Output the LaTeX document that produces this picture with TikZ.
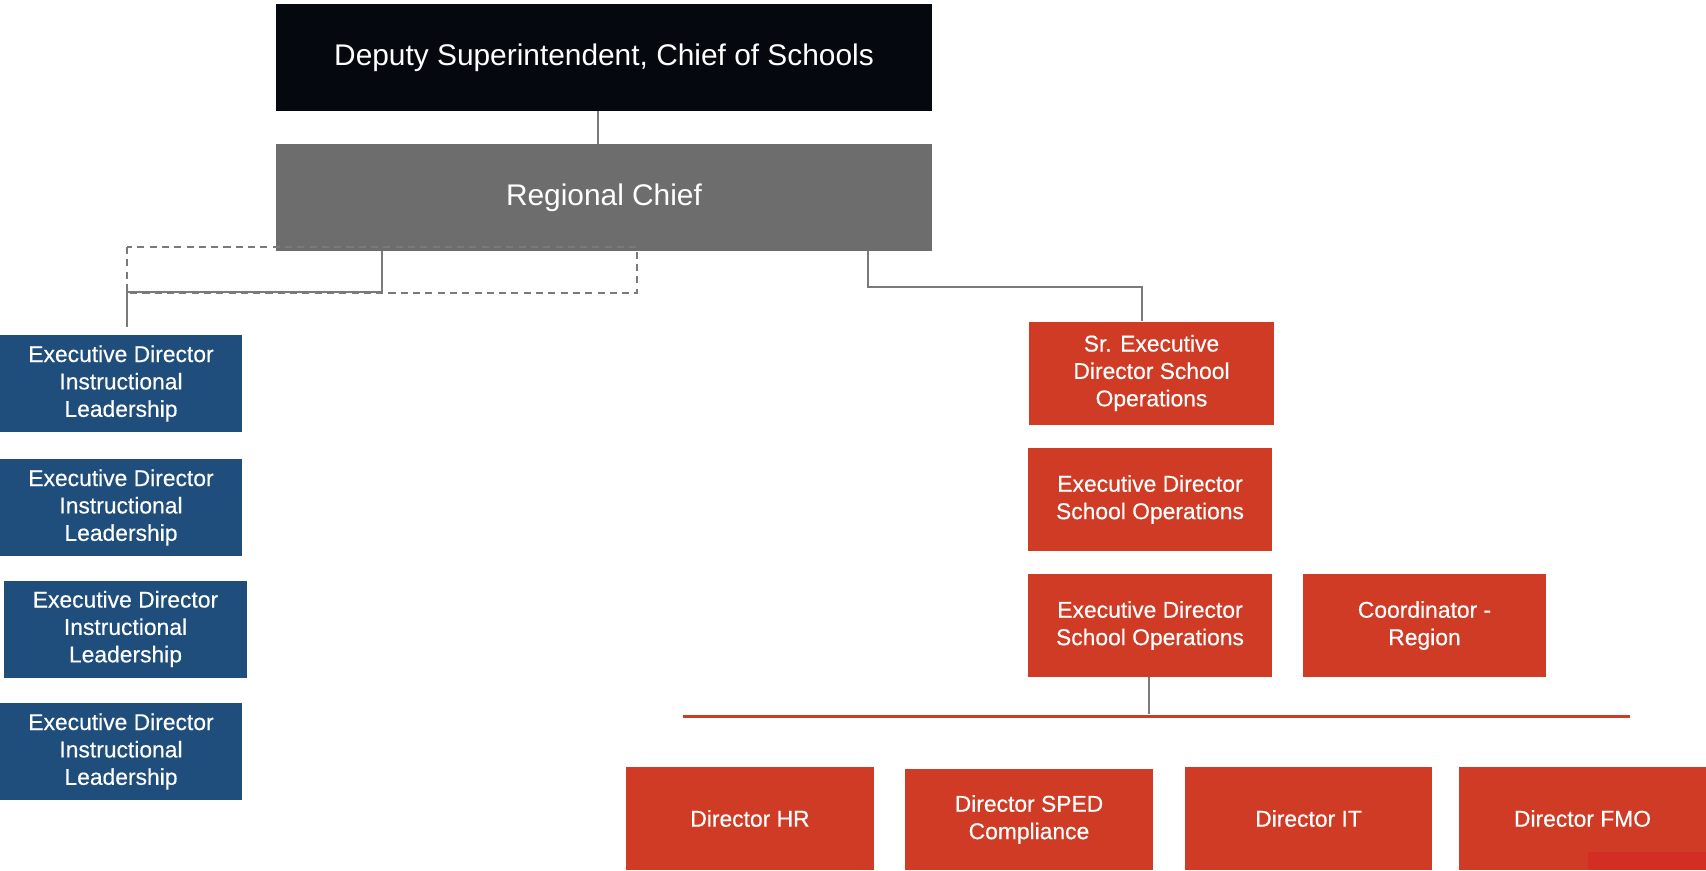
\documentclass[tikz,border=0pt]{standalone}
\usepackage{fontspec}
\setmainfont{Liberation Sans}
\newfontfamily\boxfont[FakeBold=0.4]{Liberation Sans}
\usepackage{tikz}
\usetikzlibrary{positioning, calc}

\definecolor{chiefblack}{HTML}{05080F}
\definecolor{chiefgray}{HTML}{6D6D6D}
\definecolor{leadblue}{HTML}{1F4E7D}
\definecolor{opsred}{HTML}{D03B25}
\definecolor{patchred}{HTML}{D42D23}
\definecolor{linegray}{HTML}{7A7A7A}

\tikzset{
	chiefbox/.style={rectangle, text=white, minimum width=13.12cm, minimum height=2.14cm,
		font=\fontsize{17}{20}\selectfont},
	leadbox/.style={rectangle, fill=leadblue, text=white, align=center, minimum width=4.86cm,
		minimum height=1.94cm, font=\boxfont\fontsize{13}{15.6}\selectfont},
	opsbox/.style={rectangle, fill=opsred, text=white, align=center, minimum width=4.9cm,
		minimum height=2.06cm, font=\boxfont\fontsize{13}{15.6}\selectfont},
	link/.style={draw=linegray, line width=1.1pt},
}

\begin{document}
\begin{tikzpicture}[x=0.02cm, y=-0.02cm]
	\useasboundingbox (0,0) rectangle (1706,870);

	% chiefs
	\node [chiefbox, fill=chiefblack] (deputy) at (604,57.5) {Deputy Superintendent, Chief of Schools};
	\node [chiefbox, fill=chiefgray] (regional) at (604,197.5) {Regional Chief};

	% instructional leadership
	\node [leadbox] (lead1) at (121,383.5) {Executive Director\\Instructional\\Leadership};
	\node [leadbox] (lead2) at (121,507.5) {Executive Director\\Instructional\\Leadership};
	\node [leadbox] (lead3) at (125.5,629) {Executive Director\\Instructional\\Leadership};
	\node [leadbox] (lead4) at (121,751.5) {Executive Director\\Instructional\\Leadership};

	% school operations
	\node [opsbox] (srops) at (1151.5,373) {Sr. Executive\\Director School\\Operations};
	\node [opsbox] (ops1) at (1150,499.5) {Executive Director\\School Operations};
	\node [opsbox] (ops2) at (1150,625.5) {Executive Director\\School Operations};
	\node [opsbox, minimum width=4.86cm] (coord) at (1424.5,625.5) {Coordinator -\\Region};

	% directors
	\node [opsbox, minimum width=4.96cm] (dirhr) at (750,818.5) {Director HR};
	\node [opsbox, minimum width=4.96cm, minimum height=2.02cm] (dirsped) at (1029,819.5) {Director SPED\\Compliance};
	\node [opsbox, minimum width=4.94cm] (dirit) at (1308.5,818.5) {Director IT};
	\node [opsbox, minimum width=4.94cm] (dirfmo) at (1582.5,818.5) {Director FMO};
	\fill [patchred] (1588,852) rectangle (1706,870);

	% connectors
	\coordinate (leftdrop) at (382,292);
	\coordinate (rightdrop) at (868,287);
	\coordinate (opsdrop) at (1149,714);
	\draw [link] (598,111) -- (regional.north -| 598,0);
	\draw [draw=linegray, line width=1pt, dash pattern=on 4pt off 3pt] (127,247) rectangle (637,293);
	\draw [link] (regional.south -| leftdrop) -- (leftdrop) -| ($(lead1.north -| 127,0) + (0,-8)$);
	\draw [link] (regional.south -| rightdrop) -- (rightdrop) -| (srops.north -| 1142,0);
	\draw [link] (ops2.south -| opsdrop) -- (opsdrop);
	\draw [draw=opsred, line width=1.7pt] (683,716) -- (1630,716);
\end{tikzpicture}
\end{document}
